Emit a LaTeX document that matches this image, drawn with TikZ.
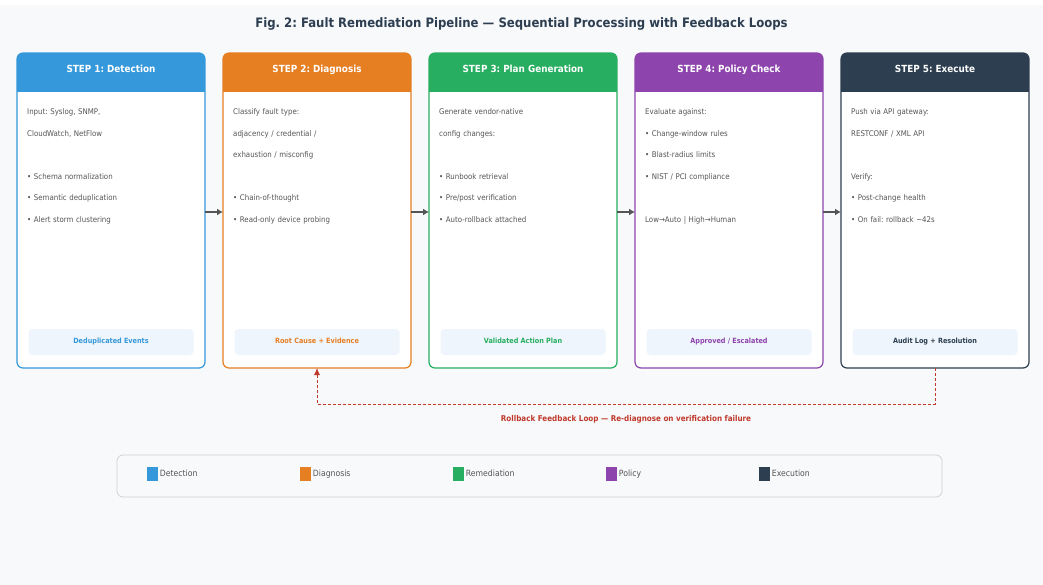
\documentclass[tikz,border=0pt]{standalone}
\usepackage{fontspec}
\setmainfont{DejaVu Sans Condensed}
\usetikzlibrary{positioning,arrows.meta}
\definecolor{detect}{HTML}{3498DB}
\definecolor{diagn}{HTML}{E67E22}
\definecolor{remed}{HTML}{27AE60}
\definecolor{policy}{HTML}{8E44AD}
\definecolor{execu}{HTML}{2C3E50}
\definecolor{fbred}{HTML}{C0392B}
\definecolor{bodygray}{HTML}{555555}
\definecolor{outfill}{HTML}{EEF5FC}
\definecolor{pagebg}{HTML}{F8F9FB}
\frenchspacing
\begin{document}
\begin{tikzpicture}[x=1pt, y=-1pt, node distance=18pt]

    \tikzset{stepbox/.style={
        rectangle,
        draw=#1,
        fill=white,
        line width=1.2pt,
        outer sep=0pt,
        rounded corners=6pt,
        minimum width=188pt,
        minimum height=315pt,
        path picture={\fill[#1, sharp corners] (path picture bounding box.north west)
            rectangle ([yshift=-39pt]path picture bounding box.north east);}
    }}
    \tikzstyle{head} = [
        text=white,
        text height=7.2pt,
        text depth=2pt,
        font=\fontsize{9.8}{12}\bfseries,
    ]
    \tikzstyle{body} = [
        anchor=north west,
        inner sep=0pt,
        text width=172pt,
        align=left,
        text=bodygray,
        font=\fontsize{7.8}{21.5}\selectfont,
    ]
    \tikzstyle{outbox} = [
        fill=outfill,
        rounded corners=4pt,
        minimum width=165pt,
        minimum height=26pt,
        text height=5.4pt,
        text depth=1.5pt,
        font=\fontsize{7.2}{9}\bfseries,
    ]
    \tikzstyle{flow} = [
        draw=bodygray,
        line width=1.8pt,
        -{Latex[length=6pt,width=7pt]},
    ]
    \tikzstyle{fback} = [
        draw=fbred,
        line width=0.9pt,
        densely dashed,
        -{Latex[length=7pt,width=6pt]},
    ]
    \tikzstyle{legkey} = [
        minimum width=11pt,
        minimum height=14pt,
        inner sep=0pt,
    ]
    \tikzstyle{legtext} = [
        inner sep=0pt,
        text height=6.3pt,
        text depth=1.8pt,
        text=bodygray,
        font=\fontsize{8.6}{10}\selectfont,
    ]

    % page
    \fill[white] (0,0) rectangle (1043,585);
    \fill[pagebg] (0,5) rectangle (1043,585);
    \useasboundingbox (0,0) rectangle (1043,585);

    \node[font=\fontsize{13}{15}\bfseries, text=execu] (ttl) at (521.5,24)
        {Fig. 2: Fault Remediation Pipeline — Sequential Processing with Feedback Loops};

    % the five steps
    \node[stepbox=detect, anchor=north west] (s1) at (17,53) {};
    \node[stepbox=diagn, right=of s1] (s2) {};
    \node[stepbox=remed, right=of s2] (s3) {};
    \node[stepbox=policy, right=of s3] (s4) {};
    \node[stepbox=execu, right=of s4] (s5) {};

    \node[head] (h1) at ([yshift=-16.5pt]s1.north) {STEP 1: Detection};
    \node[head] (h2) at ([yshift=-16.5pt]s2.north) {STEP 2: Diagnosis};
    \node[head] (h3) at ([yshift=-16.5pt]s3.north) {STEP 3: Plan Generation};
    \node[head] (h4) at ([yshift=-16.5pt]s4.north) {STEP 4: Policy Check};
    \node[head] (h5) at ([yshift=-16.5pt]s5.north) {STEP 5: Execute};

    \node[body] (b1) at ([xshift=10pt,yshift=-55.5pt]s1.north west) {
        Input: Syslog, SNMP,\\
        CloudWatch, NetFlow\\[21.5pt]
        • Schema normalization\\
        • Semantic deduplication\\
        • Alert storm clustering
    };
    \node[body] (b2) at ([xshift=10pt,yshift=-55.5pt]s2.north west) {
        Classify fault type:\\
        adjacency / credential /\\
        exhaustion / misconfig\\[21.5pt]
        • Chain-of-thought\\
        • Read-only device probing
    };
    \node[body] (b3) at ([xshift=10pt,yshift=-55.5pt]s3.north west) {
        Generate vendor-native\\
        config changes:\\[21.5pt]
        • Runbook retrieval\\
        • Pre/post verification\\
        • Auto-rollback attached
    };
    \node[body] (b4) at ([xshift=10pt,yshift=-55.5pt]s4.north west) {
        Evaluate against:\\
        • Change-window rules\\
        • Blast-radius limits\\
        • NIST / PCI compliance\\[21.5pt]
        Low→Auto | High→Human
    };
    \node[body] (b5) at ([xshift=10pt,yshift=-55.5pt]s5.north west) {
        Push via API gateway:\\
        RESTCONF / XML API\\[21.5pt]
        Verify:\\
        • Post-change health\\
        • On fail: rollback \textasciitilde42s
    };

    \node[outbox, text=detect] (o1) at ([yshift=26pt]s1.south) {Deduplicated Events};
    \node[outbox, text=diagn] (o2) at ([yshift=26pt]s2.south) {Root Cause + Evidence};
    \node[outbox, text=remed] (o3) at ([yshift=26pt]s3.south) {Validated Action Plan};
    \node[outbox, text=policy] (o4) at ([yshift=26pt]s4.south) {Approved / Escalated};
    \node[outbox, text=execu] (o5) at ([yshift=26pt]s5.south) {Audit Log + Resolution};

    \draw[flow] ([yshift=-1.5pt]s1.east) -- ([yshift=-1.5pt]s2.west);
    \draw[flow] ([yshift=-1.5pt]s2.east) -- ([yshift=-1.5pt]s3.west);
    \draw[flow] ([yshift=-1.5pt]s3.east) -- ([yshift=-1.5pt]s4.west);
    \draw[flow] ([yshift=-1.5pt]s4.east) -- ([yshift=-1.5pt]s5.west);

    % rollback loop
    \coordinate (fbr) at ([yshift=-36pt]s5.south);
    \draw[fback] (s5.south) -- (fbr) -| node[pos=0.25, below=8pt, text=fbred,
        font=\fontsize{8}{9}\bfseries] (fbl)
        {Rollback Feedback Loop — Re-diagnose on verification failure} (s2.south);

    % legend
    \node[draw=black!18, fill=pagebg, rounded corners=6pt, line width=0.8pt,
        minimum width=825pt, minimum height=42pt] (leg) at (529.5,476) {};
    \foreach \c/\t [count=\i] in {detect/Detection, diagn/Diagnosis, remed/Remediation,
        policy/Policy, execu/Execution} {
        \node[legkey, fill=\c] (k\i) at ({152.5+153*(\i-1)},474) {};
        \node[legtext, right=1.5pt of k\i] (t\i) {\t};
    }

\end{tikzpicture}
\end{document}
